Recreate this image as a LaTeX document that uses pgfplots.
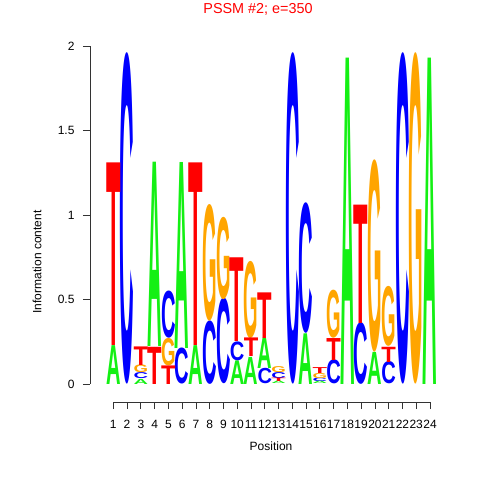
\documentclass[border=0pt]{standalone}
\usepackage{pgfplots}
\pgfplotsset{compat=1.18}
\usepackage{graphicx}
\usepackage{fontspec}
\setmainfont{Liberation Sans}
\definecolor{cA}{RGB}{20,240,20}
\definecolor{cC}{RGB}{0,0,255}
\definecolor{cG}{RGB}{255,165,0}
\definecolor{cT}{RGB}{255,0,0}
\pgfplotsset{
  logo/.style 2 args={
    scatter, only marks, mark=*, mark size=0pt,
    mark options={draw=none,fill=none},
    visualization depends on={value \thisrow{h}\as\hh},
    scatter/@pre marker code/.code={%
      \pgfmathsetmacro\hpt{\hh*169}%
      \node[anchor=south,inner sep=0pt,outer sep=0pt,text=#1]
        {\resizebox{14.5bp}{\hpt bp}{\bfseries #2}};%
    },
    scatter/@post marker code/.code={},
  },
}
\begin{document}
\begin{tikzpicture}
\useasboundingbox (0,0) rectangle (480bp,480bp);
\begin{axis}[
  at={(113.3bp,96bp)}, anchor=south west,
  x=13.77bp, y=169bp,
  xmin=1, xmax=24, ymin=0, ymax=2,
  clip=false,
  axis x line*=bottom, axis y line*=left,
  axis x line shift=18bp, axis y line shift=23.3bp,
  axis line style={line width=0.8bp, black!80},
  tick style={line width=0.8bp, black!80},
  tick align=outside, major tick length=7bp,
  xtick={1,...,24}, ytick={0,0.5,1,1.5,2},
  yticklabels={0,0.5,1,1.5,2},
  /pgf/number format/assume math mode=true,
  ticklabel style={font=\fontsize{12bp}{14bp}\selectfont},
  yticklabel style={xshift=-5bp},
  xticklabel style={yshift=-8bp},
  every axis title shift=0pt,
  title={PSSM \#2; e=350},
  title style={text=red, font=\fontsize{14.4bp}{17bp}\selectfont, at={(rel axis cs:0.457,1.107)}, anchor=center},
  xlabel={Position},
  xlabel style={font=\fontsize{12bp}{14bp}\selectfont, at={(rel axis cs:0.498,-0.183)}, anchor=center},
  ylabel={Information content},
  ylabel style={font=\fontsize{12bp}{14bp}\selectfont, at={(rel axis cs:-0.241,0.361)}, anchor=center},
]
\addplot[logo={cA}{A}] table {
x y h
1 0 0.23
3 0 0.03
4 0.22 1.09
6 0.21 1.10
7 0 0.23
10 0 0.14
11 0 0.16
12 0.09 0.18
13 0 0.015
15 0 0.30
16 0 0.015
18 0 1.93
20 0 0.19
24 0 1.93
};
\addplot[logo={cC}{C}] table {
x y h
2 0 1.93
3 0.03 0.035
5 0.27 0.275
6 0 0.21
8 0 0.37
9 0 0.50
10 0.14 0.11
12 0 0.09
13 0.035 0.035
14 0 1.93
15 0.30 0.76
16 0.015 0.02
17 0 0.14
19 0 0.36
21 0 0.13
22 0 1.93
};
\addplot[logo={cG}{G}] table {
x y h
3 0.065 0.045
5 0.11 0.16
8 0.37 0.68
9 0.50 0.48
11 0.27 0.45
13 0.07 0.035
16 0.035 0.03
17 0.27 0.28
20 0.19 1.12
21 0.22 0.35
23 0 1.93
};
\addplot[logo={cT}{T}] table {
x y h
1 0.23 1.08
3 0.11 0.11
4 0 0.22
5 0 0.11
7 0.23 1.08
10 0.25 0.495
11 0.16 0.11
12 0.27 0.27
13 0.015 0.02
16 0.065 0.035
17 0.14 0.13
19 0.36 0.70
21 0.13 0.09
};
\end{axis}
\end{tikzpicture}
\end{document}
